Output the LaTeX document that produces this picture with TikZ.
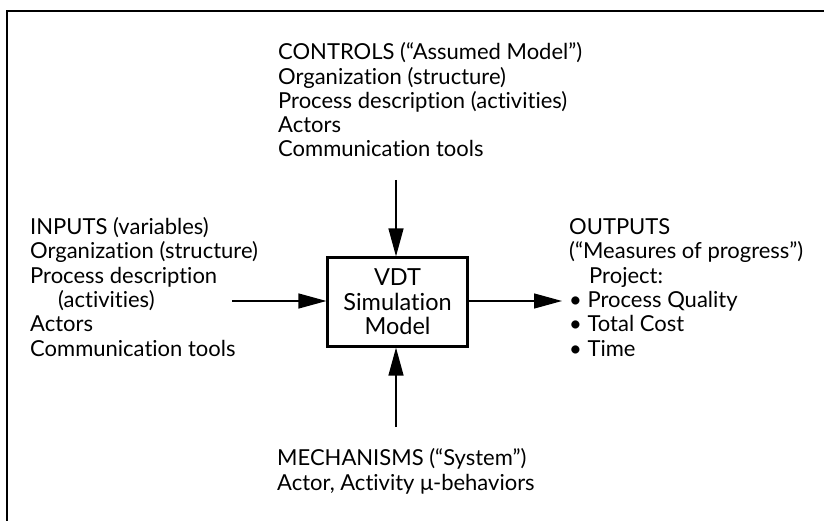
\documentclass[tikz,border=0pt]{standalone}
\usepackage{fontspec}
\setmainfont{Lato}[Ligatures={TeX,NoCommon}]
\usepackage{tikz}
\usetikzlibrary{arrows.meta}

\begin{document}
\begin{tikzpicture}[x=1pt, y=-1pt,
	txt/.style={anchor=base west, align=left, inner sep=0pt, font=\fontsize{22}{24.3}\selectfont},
	flow/.style={-{Triangle[length=28pt, width=15pt]}, line width=1.3pt}]
	
	\useasboundingbox (0, 0) rectangle (824, 521);
	\draw[line width=2.5pt] (7, 521) -- (7, 11) -- (830, 11);
	
	\node[txt] (ctrl) at (278, 157) {CONTROLS (“Assumed Model”)\\Organization (structure)\\Process description (activities)\\Actors\\Communication tools};
	\node[txt] (inp)  at (30, 356)  {INPUTS (variables)\\Organization (structure)\\Process description\\\hspace*{28pt}(activities)\\Actors\\Communication tools};
	\node[txt] (outp) at (569, 356) {OUTPUTS\\(“Measures of progress”)\\\hspace*{20pt}Project:\\• Process Quality\\• Total Cost\\• Time};
	\node[txt] (mech) at (277, 490) {MECHANISMS (“System”)\\Actor, Activity μ-behaviors};
	
	\node[shape=rectangle, draw=black, line width=2.2pt, minimum width=140pt, minimum height=89pt,
		align=center, font=\fontsize{23.5}{24.5}\selectfont] (vdt) at (397.5, 302) {VDT\\Simulation\\Model};
	
	\coordinate (c) at (396, 180);
	\coordinate (m) at (396, 427);
	\coordinate (i) at (232, 301);
	\coordinate (o) at (562, 301);
	
	\path[flow] (c) edge (c |- vdt.north);
	\path[flow] (m) edge (m |- vdt.south);
	\path[flow] (i) edge (i -| vdt.west);
	\path[flow] (o -| vdt.east) edge (o);

\end{tikzpicture}
\end{document}
